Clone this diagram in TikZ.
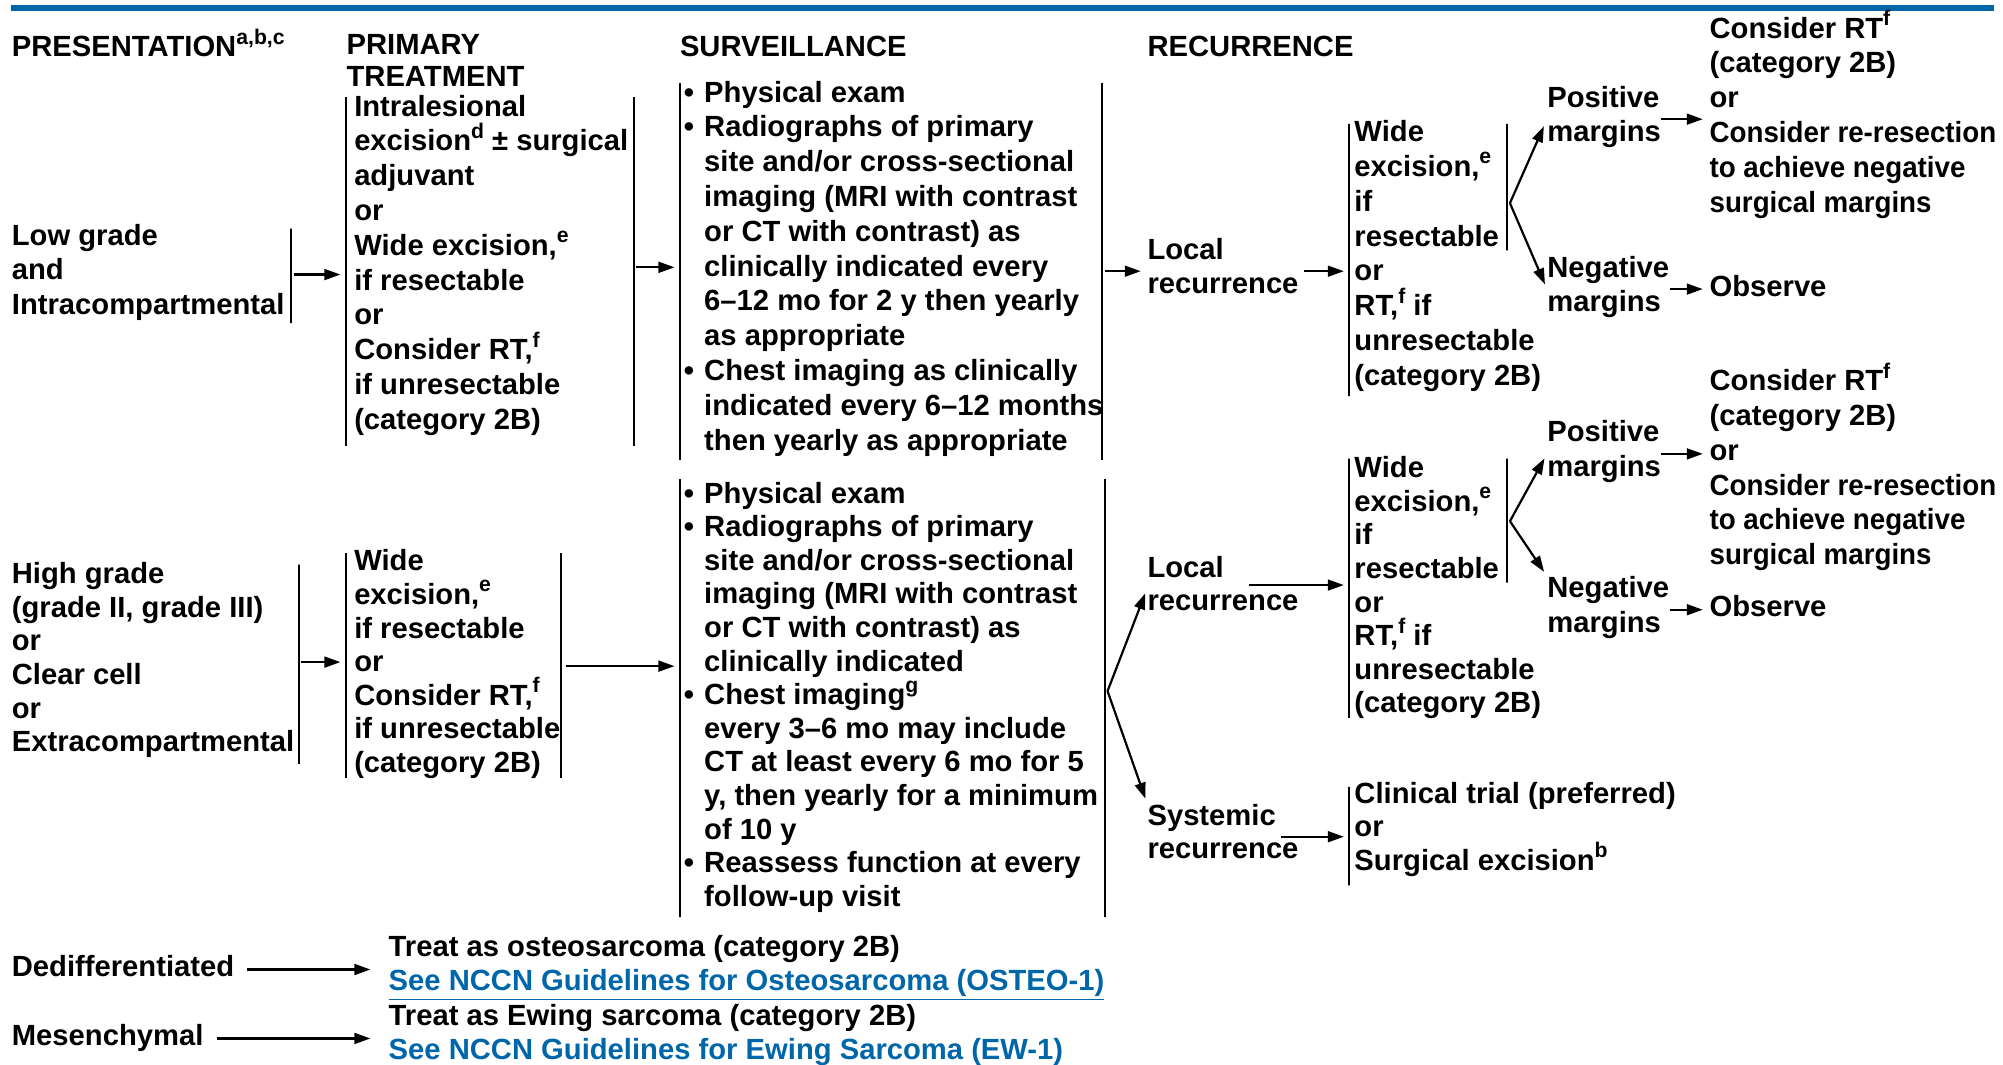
\documentclass[tikz,border=0pt]{standalone}
\usepackage{fontspec}
\setmainfont{Liberation Sans}
\usepackage{tikz}
\usetikzlibrary{arrows.meta}
\definecolor{nccnblue}{RGB}{0,102,170}
\newlength{\px}
\setlength{\px}{0.6387pt}
\newcommand{\bl}{\makebox[10.2pt][l]{•}}
\newcommand{\hi}{\hspace*{10.2pt}}
\newcommand{\ft}[1]{\smash{\raisebox{6.3pt}{\fontsize{10.6}{10.6}\selectfont #1}}}
\newcommand{\nar}[1]{\scalebox{0.95}[1]{#1}}
\newcommand{\lnk}[1]{\textcolor{nccnblue}{\underline{#1}}}
\tikzset{
  txt/.style={align=left, anchor=north west, inner sep=0pt,
    font=\bfseries\fontsize{14.6}{17.4}\selectfont,
    execute at begin node=\strut, execute at end node=\strut},
  tight/.style={font=\bfseries\fontsize{14.6}{16.8}\selectfont},
  vbar/.style={draw, line width=1pt, inner sep=0pt, minimum width=0pt, minimum height=#1\px},
  arr/.style={draw, line width=1.1pt, -{Triangle[length=8pt,width=5.4pt]}}
}

\begin{document}
\begin{tikzpicture}[x=\px, y=-\px]
      \useasboundingbox (0,0) rectangle (1568,833);
      \draw[nccnblue, line width=3pt] (9,6) -- (1561,6);
      \node[txt] (hpres) at (9,25) {PRESENTATION\ft{a,b,c}};
      \node[txt, font=\bfseries\fontsize{14.6}{16}\selectfont] (hprim) at (271,26.5) {PRIMARY\\TREATMENT};
      \node[txt] (hsurv) at (532,25) {SURVEILLANCE};
      \node[txt] (hrec) at (898,25) {RECURRENCE};

      \node[txt] (lg) at (9,175) {Low grade\\and\\Intracompartmental};
      \node[vbar=74] (lgR) at (228,216) {};
      \node[txt] (lgpt) at (277,74) {Intralesional\\excision\ft{d} ± surgical\\adjuvant\\or\\Wide excision,\ft{e}\\if resectable\\or\\Consider RT,\ft{f}\\if unresectable\\(category 2B)};
      \node[vbar=273] (lgptL) at (270.5,212.5) {};
      \node[vbar=273] (lgptR) at (496,212.5) {};
      \node[txt] (lgsv) at (535,63) {\bl Physical exam\\\bl Radiographs of primary\\\hi site and/or cross-sectional\\\hi imaging (MRI with contrast\\\hi or CT with contrast) as\\\hi clinically indicated every\\\hi 6–12 mo for 2 y then yearly\\\hi as appropriate\\\bl Chest imaging as clinically\\\hi indicated every 6–12 months\\\hi then yearly as appropriate};
      \node[vbar=295] (lgsvL) at (532,212.5) {};
      \node[vbar=295] (lgsvR) at (863,212.5) {};
      \node[txt] (lglr) at (898,186) {Local\\recurrence};
      \node[txt] (lgwe) at (1060,94) {Wide\\excision,\ft{e}\\if\\resectable\\or\\RT,\ft{f} if\\unresectable\\(category 2B)};
      \node[vbar=213] (lgweL) at (1056,203.5) {};
      \node[vbar=99] (lgweR) at (1180,146.5) {};
      \coordinate (lgfk) at (1182,159);
      \node[txt] (lgpos) at (1211,67) {Positive\\margins};
      \node[txt] (lgneg) at (1211,200) {Negative\\margins};
      \node[txt] (lgrt) at (1338,13) {Consider RT\ft{f}\\(category 2B)\\or\\\nar{Consider re-resection}\\\nar{to achieve negative}\\\nar{surgical margins}};
      \node[txt] (lgobs) at (1338,213) {Observe};
      \draw[arr, shorten <=2\px, shorten >=4\px] (lg -| lgR) -- (lg -| lgptL);
      \draw[arr, shorten <=2\px, shorten >=4\px] (lgpt -| lgptR) -- (lgpt -| lgsvL);
      \draw[arr, shorten <=2\px, shorten >=5\px] (lglr -| lgsvR) -- (lglr.west);
      \draw[arr, shorten <=4\px, shorten >=4\px] (lglr.east) -- (lglr -| lgweL);
      \draw[arr, shorten >=6\px] (lgfk) -- (lgpos.west);
      \draw[arr, shorten >=4\px] (lgfk) -- (lgneg.west);
      \draw[arr, shorten >=5\px] (lgpos.east) -- (lgpos -| lgrt.west);
      \draw[arr, shorten >=5\px] (lgneg.east) -- (lgneg -| lgobs.west);

      \node[txt, tight] (hg) at (9,440) {High grade\\(grade II, grade III)\\or\\Clear cell\\or\\Extracompartmental};
      \node[vbar=156] (hgR) at (234,520) {};
      \node[txt, tight] (hgpt) at (277,430) {Wide\\excision,\ft{e}\\if resectable\\or\\Consider RT,\ft{f}\\if unresectable\\(category 2B)};
      \node[vbar=176] (hgptL) at (270.5,521) {};
      \node[vbar=176] (hgptR) at (439,521) {};
      \node[txt, tight] (hgsv) at (535,377) {\bl Physical exam\\\bl Radiographs of primary\\\hi site and/or cross-sectional\\\hi imaging (MRI with contrast\\\hi or CT with contrast) as\\\hi clinically indicated\\\bl Chest imaging\ft{g}\\\hi every 3–6 mo may include\\\hi CT at least every 6 mo for 5\\\hi y, then yearly for a minimum\\\hi of 10 y\\\bl Reassess function at every\\\hi follow-up visit};
      \node[vbar=343] (hgsvL) at (532,546.5) {};
      \node[vbar=343] (hgsvR) at (865,546.5) {};
      \coordinate (hgfk) at (867,541);
      \node[txt, tight] (hglr) at (898,435) {Local\\recurrence};
      \coordinate (hglrout) at (978,458);
      \node[txt, tight] (hgsr) at (898,629) {Systemic\\recurrence};
      \coordinate (hgsrout) at (1003,655);
      \node[txt, tight] (hgwe) at (1060,357) {Wide\\excision,\ft{e}\\if\\resectable\\or\\RT,\ft{f} if\\unresectable\\(category 2B)};
      \node[vbar=203] (hgweL) at (1056,460.5) {};
      \node[vbar=97] (hgweR) at (1180,407.5) {};
      \coordinate (hgwfk) at (1182,408);
      \node[txt] (hgpos) at (1211,329) {Positive\\margins};
      \node[txt] (hgneg) at (1211,451) {Negative\\margins};
      \node[txt] (hgrt) at (1338,289) {Consider RT\ft{f}\\(category 2B)\\or\\\nar{Consider re-resection}\\\nar{to achieve negative}\\\nar{surgical margins}};
      \node[txt] (hgobs) at (1338,463) {Observe};
      \node[txt, tight] (hgct) at (1060,612) {Clinical trial (preferred)\\or\\Surgical excision\ft{b}};
      \node[vbar=77] (hgctL) at (1056,654.5) {};
      \draw[arr, shorten <=2\px, shorten >=4\px] (hg -| hgR) -- (hg -| hgptL);
      \draw[arr, shorten <=4\px, shorten >=4\px] (hgpt -| hgptR) -- (hgpt -| hgsvL);
      \draw[arr, shorten >=4\px] (hgfk) -- (hglr.west);
      \draw[arr, shorten >=4\px] (hgfk) -- (hgsr.north west);
      \draw[arr, shorten >=4\px] (hglrout) -- (hglrout -| hgweL);
      \draw[arr, shorten >=4\px] (hgsrout) -- (hgsrout -| hgctL);
      \draw[arr, shorten >=4\px] (hgwfk) -- (hgpos.west);
      \draw[arr, shorten >=4\px] (hgwfk) -- (hgneg.north west);
      \draw[arr, shorten >=5\px] (hgpos.east) -- (hgpos -| hgrt.west);
      \draw[arr, shorten >=5\px] (hgneg.east) -- (hgneg -| hgobs.west);

      \node[txt] (dd) at (9,745) {Dedifferentiated};
      \node[txt, tight] (ddrx) at (304,732) {Treat as osteosarcoma (category 2B)\\\lnk{See NCCN Guidelines for Osteosarcoma (OSTEO-1)}};
      \node[txt] (ms) at (9,799) {Mesenchymal};
      \node[txt, tight] (msrx) at (304,786) {Treat as Ewing sarcoma (category 2B)\\\lnk{See NCCN Guidelines for Ewing Sarcoma (EW-1)}};
      \draw[arr, shorten <=10\px, shorten >=14\px] (dd.east) -- (dd -| ddrx.west);
      \draw[arr, shorten <=10\px, shorten >=14\px] (ms.east) -- (ms -| msrx.west);
    \end{tikzpicture}
\end{document}
